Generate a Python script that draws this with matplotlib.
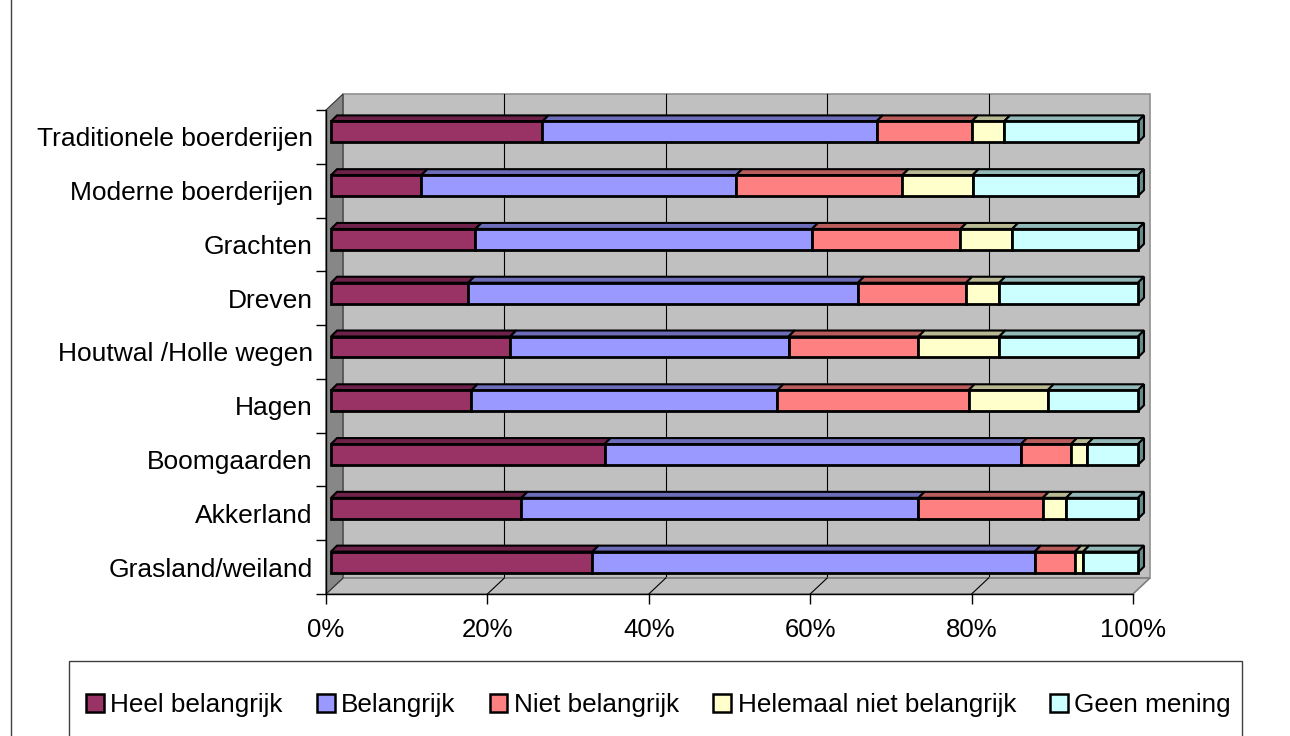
import matplotlib
matplotlib.use("Agg")
import matplotlib.pyplot as plt
import matplotlib.transforms as mtransforms
from matplotlib.patches import Rectangle, Polygon, Patch
from matplotlib.lines import Line2D
import numpy as np

plt.rcParams['font.family'] = ['Liberation Sans', 'DejaVu Sans']

# data (percent of answers), bottom row first
categories = ['Grasland/weiland', 'Akkerland', 'Boomgaarden', 'Hagen',
              'Houtwal /Holle wegen', 'Dreven', 'Grachten',
              'Moderne boerderijen', 'Traditionele boerderijen']
series_names = ['Heel belangrijk', 'Belangrijk', 'Niet belangrijk',
                'Helemaal niet belangrijk', 'Geen mening']
heel = [32.4, 23.6, 33.9, 17.4, 22.2, 17.0, 17.9, 11.2, 26.2]
belangrijk = [54.8, 49.2, 51.6, 37.9, 34.5, 48.3, 41.7, 39.0, 41.4]
niet = [5.0, 15.4, 6.2, 23.7, 16.1, 13.4, 18.4, 20.6, 11.8]
helemaal = [1.0, 2.9, 2.0, 9.8, 10.0, 4.1, 6.4, 8.7, 4.0]
geen = [6.8, 8.9, 6.3, 11.2, 17.2, 17.2, 15.6, 20.5, 16.6]
x_ticks = [0, 20, 40, 60, 80, 100]

colors = ['#993366', '#9999FF', '#FF8080', '#FFFFCC', '#CCFFFF']
top_colors = ['#6E2249', '#6C6CB8', '#B85C5C', '#B8B892', '#92B8B8']
end_color = '#6A8C8C'

W, H = 1290, 736
fig = plt.figure(figsize=(W / 100, H / 100), dpi=100)
fig.patch.set_facecolor('white')

ax_w, ax_h = 807, 484
ax = fig.add_axes([326 / W, 1 - 594 / H, ax_w / W, ax_h / H])
ax.set_xlim(0, 100)
ax.set_ylim(-0.5, len(categories) - 0.5)
ax.patch.set_visible(False)
for s in ['top', 'right']:
    ax.spines[s].set_visible(False)
for s in ['left', 'bottom']:
    ax.spines[s].set_linewidth(1.0)
    ax.spines[s].set_zorder(5)

# wall depth in pixels -> axes fraction
wdx, wdy = 17, 16
adx, ady = wdx / ax_w, wdy / ax_h
wall_off = mtransforms.ScaledTranslation(wdx / 100, wdy / 100, fig.dpi_scale_trans)

# back wall
ax.add_patch(Rectangle((0, 0), 1, 1, transform=ax.transAxes + wall_off,
                       facecolor='#C0C0C0', edgecolor='#909090', lw=1.2,
                       clip_on=False, zorder=0))
# floor
ax.add_patch(Polygon([(0, 0), (1, 0), (1 + adx, ady), (adx, ady)], closed=True,
                     transform=ax.transAxes, facecolor='#C0C0C0',
                     edgecolor='#808080', lw=1.2, clip_on=False, zorder=0.5))
# left wall
ax.add_patch(Polygon([(0, 0), (0, 1), (adx, 1 + ady), (adx, ady)], closed=True,
                     transform=ax.transAxes, facecolor='#878787',
                     edgecolor='#333333', lw=0.8, clip_on=False, zorder=0.6))

# gridlines on back wall and floor
for t in x_ticks[1:-1]:
    xf = t / 100
    ax.add_line(Line2D([xf, xf], [0, 1], transform=ax.transAxes + wall_off,
                       color='black', lw=0.8, zorder=0.4, clip_on=False))
    ax.add_line(Line2D([xf, xf + adx], [0, ady], transform=ax.transAxes,
                       color='black', lw=0.8, zorder=0.7, clip_on=False))

# bars with a little depth
values = [heel, belangrijk, niet, helemaal, geen]
bar_h = 0.39
px_y = ax_h / len(categories)   # pixels per category
px_x = ax_w / 100               # pixels per percent
ddx, ddy = 6 / px_x, 6 / px_y
bar_off = ax.transData + mtransforms.ScaledTranslation(5 / 100, 5 / 100, fig.dpi_scale_trans)

y = np.arange(len(categories))
left = np.zeros(len(categories))
for k, vals in enumerate(values):
    vals = np.array(vals)
    bars = ax.barh(y, vals, left=left, height=bar_h, color=colors[k],
                   edgecolor='black', linewidth=2.0, zorder=3, clip_on=False)
    for r in bars.patches:
        r.set_transform(bar_off)
    for yi, l, w in zip(y, left, vals):
        yt = yi + bar_h / 2
        ax.add_patch(Polygon([(l, yt), (l + w, yt), (l + w + ddx, yt + ddy), (l + ddx, yt + ddy)],
                             closed=True, transform=bar_off, facecolor=top_colors[k],
                             edgecolor='black', lw=1.5, zorder=2.5, clip_on=False))
    left = left + vals

# end faces on the right side
for yi, tot in zip(y, left):
    yb, yt = yi - bar_h / 2, yi + bar_h / 2
    ax.add_patch(Polygon([(tot, yb), (tot, yt), (tot + ddx, yt + ddy), (tot + ddx, yb + ddy)],
                         closed=True, transform=bar_off, facecolor=end_color,
                         edgecolor='black', lw=1.5, zorder=2.5, clip_on=False))

# ticks and labels
ax.set_xticks(x_ticks)
ax.set_xticklabels([f'{t}%' for t in x_ticks], fontsize=18.5)
ax.tick_params(axis='x', length=7, width=1.0, direction='out', pad=10)
ax.set_yticks(np.arange(len(categories) + 1) - 0.5)
ax.set_yticklabels([])
ax.tick_params(axis='y', which='major', length=7, width=1.0, direction='out')
ax.set_yticks(y, minor=True)
ax.set_yticklabels(categories, minor=True, fontsize=19)
ax.tick_params(axis='y', which='minor', length=0, pad=9.4)

# legend with its frame (runs off the bottom like the original)
fig.add_artist(Rectangle((69 / W, 1 - 745 / H), (1242 - 69) / W, (745 - 661) / H,
                         transform=fig.transFigure, facecolor='white',
                         edgecolor='#404040', lw=1.0))
handles = [Patch(facecolor=c, edgecolor='black', lw=1.8) for c in colors]
fig.legend(handles, series_names, loc='center left',
           bbox_to_anchor=(86 / W, 1 - 705 / H), ncol=5, frameon=False,
           fontsize=18.8, handlelength=0.68, handleheight=0.68,
           handletextpad=0.25, columnspacing=1.31, borderpad=0, borderaxespad=0)

# chart area border on the left
fig.add_artist(Line2D([11 / W, 11 / W], [0, 1], transform=fig.transFigure,
                      color='#404040', lw=1.0))

fig.savefig('out.png', dpi=100)
